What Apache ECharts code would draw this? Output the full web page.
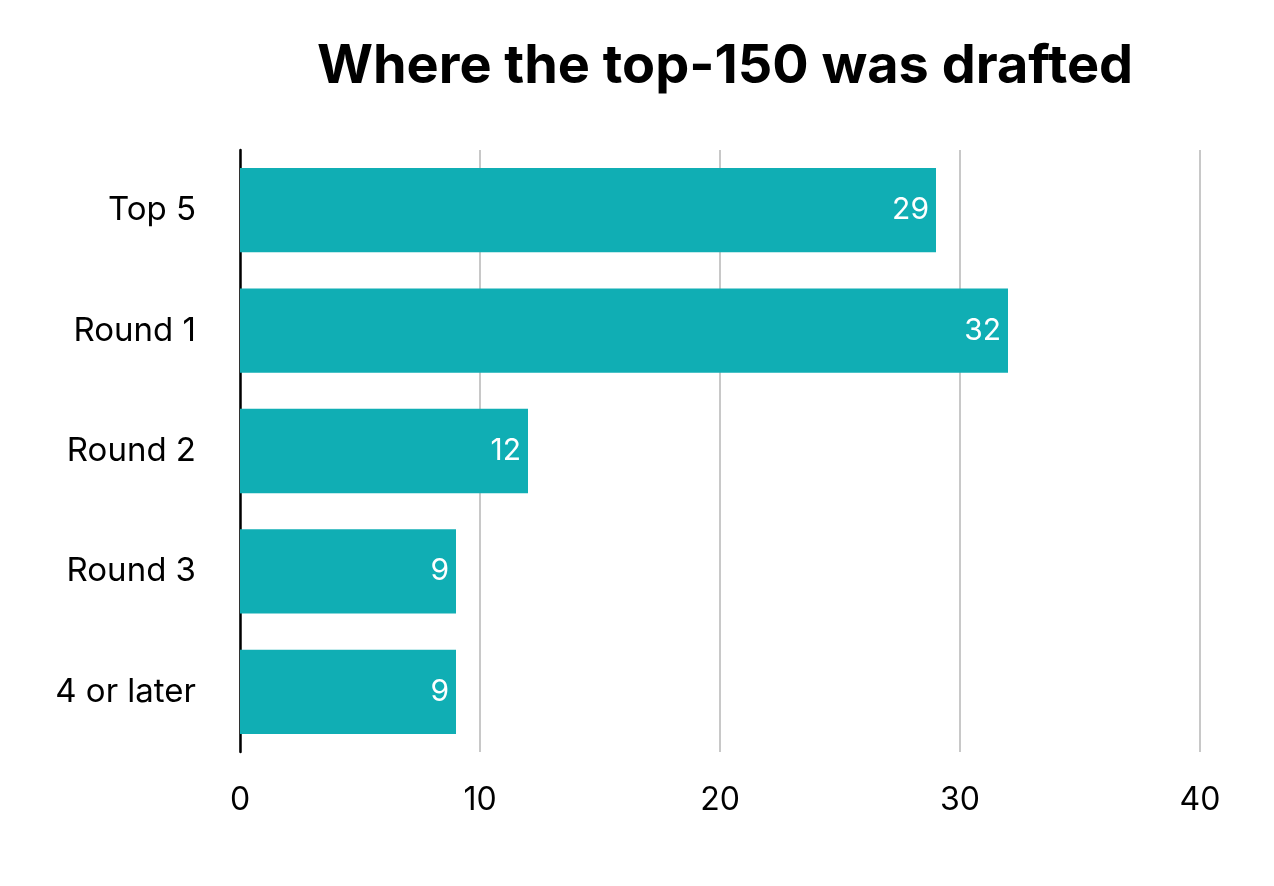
<!DOCTYPE html>
<html>
<head>
<meta charset="utf-8">
<script src="https://cdn.jsdelivr.net/npm/echarts@6/dist/echarts.min.js"></script>
<style>html,body{margin:0;padding:0;background:#fff;}#c{width:1274px;height:886px;}</style>
</head>
<body>
<div id="c"></div>
<script>
const categories = ["Top 5", "Round 1", "Round 2", "Round 3", "4 or later"];
const values = [29, 32, 12, 9, 9];
const xTicks = [0, 10, 20, 30, 40];

const chart = echarts.init(document.getElementById('c'));
chart.setOption({
  backgroundColor: '#fff',
  animation: false,
  title: {
    text: 'Where the top-150 was drafted',
    left: 720, top: 35, textAlign: 'center',
    textStyle: { fontFamily: 'Inter', fontWeight: 'bold', fontSize: 54, color: '#000' }
  },
  grid: { left: 240, right: 74, top: 150, bottom: 134 },
  xAxis: {
    type: 'value', min: xTicks[0], max: xTicks[xTicks.length - 1], interval: 10,
    axisLine: { show: false }, axisTick: { show: false },
    axisLabel: { fontFamily: 'Inter', fontSize: 32, color: '#000', margin: 32 },
    splitLine: { show: true, lineStyle: { color: '#c8c8c8', width: 2 } }
  },
  yAxis: {
    type: 'category', data: categories, inverse: true,
    axisLine: { show: true, lineStyle: { color: '#000', width: 2.5 } },
    axisTick: { show: false },
    axisLabel: { fontFamily: 'Inter', fontSize: 33, color: '#000', margin: 44 }
  },
  series: [{
    type: 'bar', data: values, barCategoryGap: '30%',
    itemStyle: { color: '#10AEB4' },
    label: { show: true, position: 'insideRight', distance: 7, color: '#fff', fontFamily: 'Inter', fontSize: 30 }
  }]
});
</script>
</body>
</html>
